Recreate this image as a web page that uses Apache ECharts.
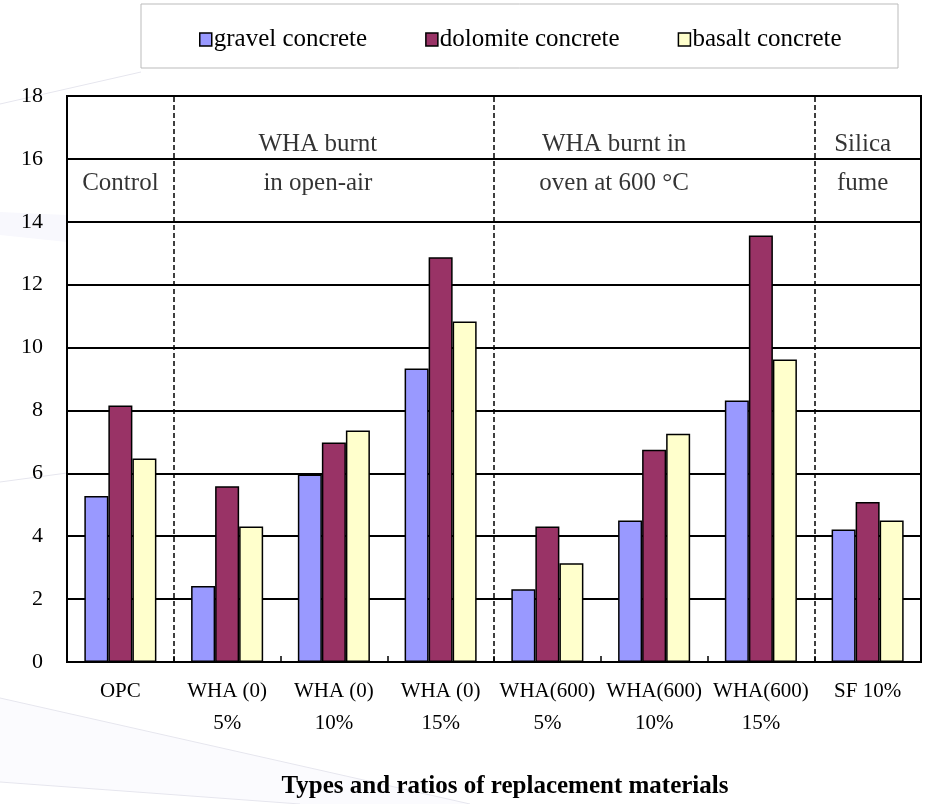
<!DOCTYPE html>
<html>
<head>
<meta charset="utf-8">
<script src="https://cdn.jsdelivr.net/npm/echarts@6/dist/echarts.min.js"></script>
<style>
html,body{margin:0;padding:0;background:#fff;}
#chart{width:932px;height:804px;}
</style>
</head>
<body>
<div id="chart"></div>
<script>
const categories = ['OPC', 'WHA (0)\n5%', 'WHA (0)\n10%', 'WHA (0)\n15%', 'WHA(600)\n5%', 'WHA(600)\n10%', 'WHA(600)\n15%', 'SF 10%'];
const seriesNames = ['gravel concrete', 'dolomite concrete', 'basalt concrete'];
const gravel   = [5.28, 2.42, 5.96, 9.33, 2.31, 4.50, 8.32, 4.21];
const dolomite = [8.16, 5.59, 6.98, 12.87, 4.31, 6.75, 13.56, 5.09];
const basalt   = [6.47, 4.31, 7.36, 10.83, 3.14, 7.26, 9.62, 4.50];
const groupNames = ['Control', 'WHA burnt\nin open-air', 'WHA burnt in\noven at 600 \u00B0C', 'Silica\nfume'];
const groupSpans = [[0, 1], [1, 4], [4, 7], [7, 8]];
const yTicks = [0, 2, 4, 6, 8, 10, 12, 14, 16, 18];

// styling
const colors = ['#9999FF', '#993366', '#FFFFCC'];
const serif = '"Liberation Serif", "Times New Roman", serif';
const groupLabelOffsetPx = [0, -16, -40, -5];
const textColor = '#000';

const chart = echarts.init(document.getElementById('chart'));

const barSeries = [gravel, dolomite, basalt].map((d, i) => ({
  name: seriesNames[i],
  type: 'bar',
  data: d,
  barWidth: '22.5%',
  barGap: '0%',
  itemStyle: { color: colors[i], borderColor: '#000', borderWidth: 1.5 }
}));

const boundaries = groupSpans.slice(1).map(s => s[0]);

const labelSeries = {
  type: 'scatter',
  xAxisIndex: 1,
  yAxisIndex: 0,
  symbolSize: 0,
  silent: true,
  z: 5,
  data: groupNames.map((n, i) => ({
    value: [(groupSpans[i][0] + groupSpans[i][1]) / 2, n.indexOf('\n') >= 0 ? 15.84 : 15.22],
    name: n,
    label: { offset: [groupLabelOffsetPx[i], 0] }
  })),
  label: {
    show: true,
    position: 'inside',
    formatter: p => p.name,
    fontFamily: serif,
    fontSize: 25,
    lineHeight: 39,
    color: textColor
  },
  markLine: {
    silent: true,
    symbol: 'none',
    label: { show: false },
    lineStyle: { color: '#000', type: [5, 3], width: 1.5 },
    data: boundaries.map(b => ({ xAxis: b }))
  }
};

const deco = '#e6e6ee';
chart.setOption({
  backgroundColor: '#fff',
  animation: false,
  graphic: [
    { type: 'polygon', z: -20, shape: { points: [[0, 698], [470, 804], [300, 804], [0, 782]] }, style: { fill: '#fbfbfe' } },
    { type: 'line', z: -19, shape: { x1: 0, y1: 698, x2: 470, y2: 804 }, style: { stroke: deco, lineWidth: 1 } },
    { type: 'line', z: -19, shape: { x1: 0, y1: 782, x2: 300, y2: 804 }, style: { stroke: deco, lineWidth: 1 } },
    { type: 'polygon', z: -20, shape: { points: [[0, 212], [67, 215], [67, 242], [0, 235]] }, style: { fill: '#f8f8fd' } },
    { type: 'line', z: -19, shape: { x1: 0, y1: 482, x2: 67, y2: 473 }, style: { stroke: deco, lineWidth: 1 } },
    { type: 'line', z: -19, shape: { x1: 0, y1: 104, x2: 141, y2: 72 }, style: { stroke: deco, lineWidth: 1 } },
    {
      type: 'rect', z: -1,
      shape: { x: 141, y: 4, width: 757, height: 64 },
      style: { fill: '#fff', stroke: '#bbb', lineWidth: 1 }
    }
  ],
  legend: {
    left: 194,
    top: 22,
    itemWidth: 12,
    itemHeight: 13,
    itemGap: 58,
    icon: 'rect',
    itemStyle: { borderColor: '#000', borderWidth: 1.5 },
    textStyle: { fontFamily: serif, fontSize: 25, color: textColor, padding: [0, 0, 0, -3] },
    data: seriesNames
  },
  grid: {
    left: 67, right: 11, top: 96, bottom: 142,
    show: true, borderColor: '#000', borderWidth: 2, backgroundColor: '#fff'
  },
  xAxis: [{
    type: 'category',
    data: categories,
    name: 'Types and ratios of replacement materials',
    nameLocation: 'middle',
    nameGap: 112,
    nameTextStyle: { fontFamily: serif, fontSize: 25, fontWeight: 'bold', color: '#000', padding: [0, 0, 0, 22] },
    axisLine: { lineStyle: { color: '#000', width: 2 } },
    axisTick: { show: true, inside: true, length: 6, lineStyle: { color: '#000', width: 1.5 } },
    axisLabel: { fontFamily: serif, fontSize: 21, lineHeight: 32, color: textColor, margin: 13, interval: 0 }
  }, {
    type: 'value',
    min: 0, max: 8,
    show: false
  }],
  yAxis: {
    type: 'value',
    min: yTicks[0], max: yTicks[yTicks.length - 1], interval: 2,
    axisLine: { show: true, lineStyle: { color: '#000', width: 2 } },
    axisTick: { show: false },
    axisLabel: { fontFamily: serif, fontSize: 22, color: textColor, margin: 24 },
    splitLine: { lineStyle: { color: '#000', width: 2 } }
  },
  series: [...barSeries, labelSeries]
});
</script>
</body>
</html>
